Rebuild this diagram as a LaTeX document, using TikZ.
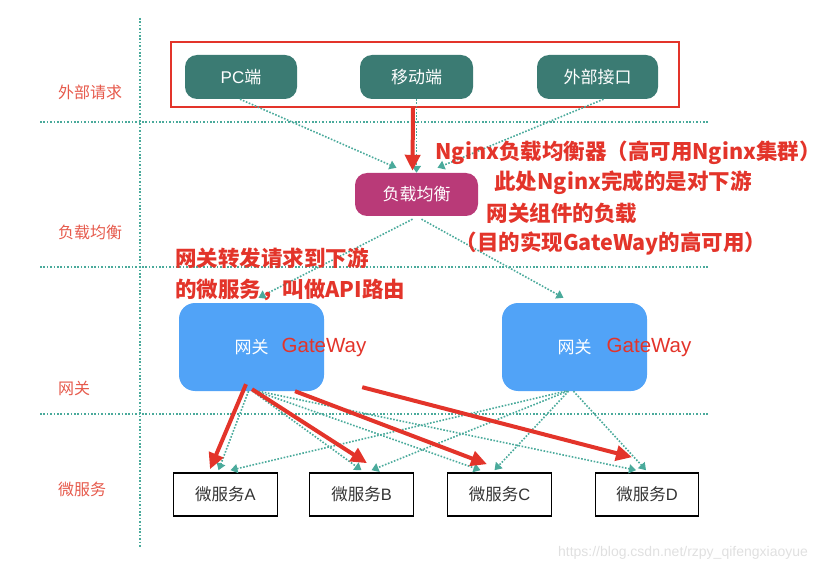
\documentclass[tikz,border=0pt]{standalone}
\usepackage{fontspec}
\setmainfont{Liberation Sans}
\newfontfamily\cjk{Noto Sans CJK SC}
\newfontfamily\lat{Liberation Sans}
\usetikzlibrary{arrows.meta}
\definecolor{tealbox}{HTML}{3B7B73}
\definecolor{lbbox}{HTML}{B93A78}
\definecolor{gwbox}{HTML}{51A3F7}
\definecolor{redc}{HTML}{E3342A}
\definecolor{lanered}{HTML}{E65A4C}
\definecolor{dotc}{HTML}{4AAA9B}
\definecolor{mstext}{HTML}{333333}
\begin{document}
\begin{tikzpicture}[x=1pt,y=-1pt,
  tbox/.style={fill=tealbox, rounded corners=12pt, minimum width=#1, minimum height=44pt, inner sep=0pt, text=white, font=\cjk\fontsize{17}{20}\selectfont},
  lbnode/.style={fill=lbbox, rounded corners=12pt, minimum width=123pt, minimum height=43pt, inner sep=0pt, text=white, font=\cjk\fontsize{17}{20}\selectfont},
  gwnode/.style={fill=gwbox, rounded corners=16pt, minimum width=145pt, minimum height=88pt, inner sep=0pt, text=white, font=\cjk\fontsize{17}{20}\selectfont},
  msnode/.style={draw=black, line width=1.6pt, fill=white, minimum width=#1, minimum height=43pt, inner sep=0pt, text=mstext, font=\cjk\fontsize{16.5}{20}\selectfont},
  lanelabel/.style={text=lanered, font=\cjk\fontsize{16}{20}\selectfont, inner sep=0pt},
  lanesep/.style={draw=dotc, line width=1.6pt, dash pattern=on 1.6pt off 1.8pt},
  tdot/.style={draw=dotc, line width=1.6pt, dash pattern=on 1.6pt off 1.6pt, -{Triangle[length=7pt,width=9pt]}},
  redarr/.style={draw=redc, line width=4pt, -{Triangle[length=16pt,width=15pt]}},
  anno/.style={text=redc, font=\cjk\bfseries\fontsize{21.5}{26}\selectfont, inner sep=0pt},
  gwlabel/.style={text=redc, font=\lat\fontsize{20.5}{24}\selectfont, inner sep=0pt}
]
\useasboundingbox (0,0) rectangle (835,572);

% lane separators
\coordinate (v1) at (140,18);
\coordinate (v2) at (140,547);
\coordinate (h1a) at (40,122);
\coordinate (h1b) at (708,122);
\coordinate (h2a) at (40,267);
\coordinate (h2b) at (708,267);
\coordinate (h3a) at (40,414);
\coordinate (h3b) at (708,414);
\draw[lanesep] (v1) -- (v2);
\draw[lanesep] (h1a) -- (h1b);
\draw[lanesep] (h2a) -- (h2b);
\draw[lanesep] (h3a) -- (h3b);

% lane labels
\node[lanelabel] (l1) at (90,92) {外部请求};
\node[lanelabel] (l2) at (90,232) {负载均衡};
\node[lanelabel] (l3) at (74,388) {网关};
\node[lanelabel] (l4) at (82,489) {微服务};

% request box
\node[draw=redc, line width=1.6pt, minimum width=508pt, minimum height=65pt, inner sep=0pt] (req) at (425,74.5) {};
\node[tbox=112pt] (pc) at (241,77) {{\lat PC}端};
\node[tbox=113pt] (mob) at (416.5,77) {移动端};
\node[tbox=121pt] (ext) at (597.5,77) {外部接口};

% load balancer
\node[lbnode] (lb) at (416.5,194.5) {负载均衡};

% gateways
\node[gwnode] (gw1) at (251.5,347) {网关};
\node[gwnode] (gw2) at (574.5,347) {网关};
\node[gwlabel, anchor=west] (gwt1) at ([xshift=30pt]gw1.center) {GateWay};
\node[gwlabel, anchor=west] (gwt2) at ([xshift=32pt]gw2.center) {GateWay};

% microservices
\node[msnode=104pt] (msA) at (225.5,494.5) {微服务{\lat A}};
\node[msnode=104pt] (msB) at (361.5,494.5) {微服务{\lat B}};
\node[msnode=104pt] (msC) at (499.5,494.5) {微服务{\lat C}};
\node[msnode=103pt] (msD) at (647,494.5) {微服务{\lat D}};

% dotted connectors
\draw[tdot] ([xshift=-1pt]pc.south) -- ([xshift=-20pt,yshift=5pt]lb.north);
\draw[tdot] ([xshift=6pt]ext.south) -- ([xshift=21pt,yshift=5pt]lb.north);
\draw[tdot] (mob.south) -- (lb.north);
\draw[tdot] ([xshift=-4pt,yshift=-3pt]lb.south) -- ([xshift=7pt,yshift=5pt]gw1.north);
\draw[tdot] ([xshift=5pt,yshift=-3pt]lb.south) -- ([xshift=-11pt,yshift=5pt]gw2.north);

\draw[tdot] ([xshift=-3pt]gw1.south) -- ([xshift=-7pt,yshift=2pt]msA.north);
\draw[tdot] ([xshift=1pt]gw1.south) -- ([xshift=0pt,yshift=2pt]msB.north);
\draw[tdot] ([xshift=5pt]gw1.south) -- ([xshift=-19pt,yshift=2pt]msC.north);
\draw[tdot] ([xshift=7pt]gw1.south) -- ([xshift=-11pt,yshift=2pt]msD.north);

\draw[tdot] ([xshift=-9pt]gw2.south) -- ([xshift=5pt,yshift=2pt]msA.north);
\draw[tdot] ([xshift=-7pt]gw2.south) -- ([xshift=10pt,yshift=2pt]msB.north);
\draw[tdot] ([xshift=-6pt]gw2.south) -- ([xshift=-5pt,yshift=2pt]msC.north);
\draw[tdot] ([xshift=-1pt]gw2.south) -- ([xshift=-1pt,yshift=2pt]msD.north);

% red arrows
\draw[redarr] ([xshift=-12pt]req.south) -- ([xshift=-4pt,yshift=2pt]lb.north);
\draw[redarr] ([xshift=-5.5pt,yshift=7pt]gw1.south) -- ([xshift=-15.5pt,yshift=3pt]msA.north);
\draw[redarr] ([xshift=0.5pt,yshift=2pt]gw1.south) -- ([xshift=5.5pt,yshift=9pt]msB.north);
\draw[redarr] ([xshift=43.5pt]gw1.south) -- ([xshift=-12.5pt,yshift=8pt]msC.north);
\coordinate (rd) at ([xshift=38pt,yshift=4pt]gw1.south east);
\draw[redarr] (rd) -- ([xshift=-15pt,yshift=15pt]msD.north);

% annotations
\node[anno] (a1) at (628,153) {Nginx负载均衡器（高可用Nginx集群）};
\node[anno] (a2) at (623,183) {此处Nginx完成的是对下游};
\node[anno] (a3) at (562,213) {网关组件的负载};
\node[anno] (a4) at (611,243) {（目的实现GateWay的高可用）};
\node[anno, anchor=west] (a5) at (175,258) {网关转发请求到下游};
\node[anno, anchor=west] (a6) at (175,290) {的微服务，叫做API路由};

% watermark
\node[text=black!12, font=\fontsize{14}{16}\selectfont, inner sep=0pt] (wm) at (683,553) {https://blog.csdn.net/rzpy\_qifengxiaoyue};
\end{tikzpicture}
\end{document}
